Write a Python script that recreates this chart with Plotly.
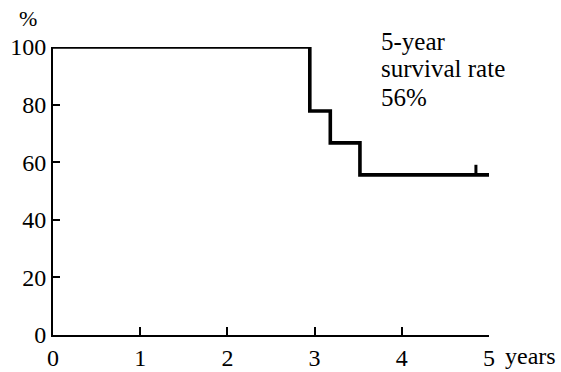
import plotly.graph_objects as go

# Data
step_times = [0, 2.945, 3.18, 3.52, 5.04]
survival = [100, 77.8, 66.7, 55.6, 55.6]
censor_times = [4.85]
censor_level = [55.6]
censor_mark = 3.5
x_ticks = [0, 1, 2, 3, 4, 5]
y_ticks = [0, 20, 40, 60, 80, 100]
note_lines = ["5-year", "survival rate", "56%"]
note_line_y = [1.018, 0.925, 0.824]

FONT = "Liberation Serif"

fig = go.Figure()
fig.add_trace(go.Scatter(
    x=step_times, y=survival, mode="lines",
    line=dict(shape="hv", color="black", width=3.6),
    hoverinfo="skip", showlegend=False, cliponaxis=False,
))
for cx, cy in zip(censor_times, censor_level):
    fig.add_trace(go.Scatter(
        x=[cx, cx], y=[cy, cy + censor_mark], mode="lines",
        line=dict(color="black", width=3),
        hoverinfo="skip", showlegend=False, cliponaxis=False,
    ))

annotations = [
    dict(text=t, xref="x", yref="paper", x=3.74, y=yy,
         xanchor="left", yanchor="middle", align="left", showarrow=False,
         font=dict(family=FONT, size=25, color="black"))
    for t, yy in zip(note_lines, note_line_y)
]
annotations += [
    dict(text="%", xref="paper", yref="paper", x=-0.058, y=1.098,
         xanchor="center", yanchor="middle", showarrow=False,
         font=dict(family=FONT, size=22, color="black")),
    dict(text="years", xref="paper", yref="paper", x=1.033, y=-0.073,
         xanchor="left", yanchor="middle", showarrow=False,
         font=dict(family=FONT, size=24, color="black")),
]

fig.update_layout(
    width=561, height=372,
    margin=dict(l=53, r=72, t=47, b=37, autoexpand=False),
    paper_bgcolor="white", plot_bgcolor="white",
    font=dict(family=FONT, size=24, color="black"),
    xaxis=dict(range=[0, 5], tickvals=x_ticks, ticktext=[str(v) for v in x_ticks],
               showgrid=False, zeroline=False, showline=True, linecolor="black",
               linewidth=2, ticks="inside", ticklen=8, tickwidth=2, tickcolor="black",
               automargin=False,
               tickfont=dict(family=FONT, size=24, color="black")),
    yaxis=dict(range=[0, 100], tickvals=y_ticks, ticktext=[str(v) for v in y_ticks],
               showgrid=False, zeroline=False, showline=True, linecolor="black",
               linewidth=2, ticks="inside", ticklen=7, tickwidth=2, tickcolor="black",
               automargin=False,
               tickfont=dict(family=FONT, size=24, color="black")),
    annotations=annotations,
)

fig.write_html("out.html", config={"displayModeBar": False, "displaylogo": False},
               post_script="document.body.style.margin='0';")
